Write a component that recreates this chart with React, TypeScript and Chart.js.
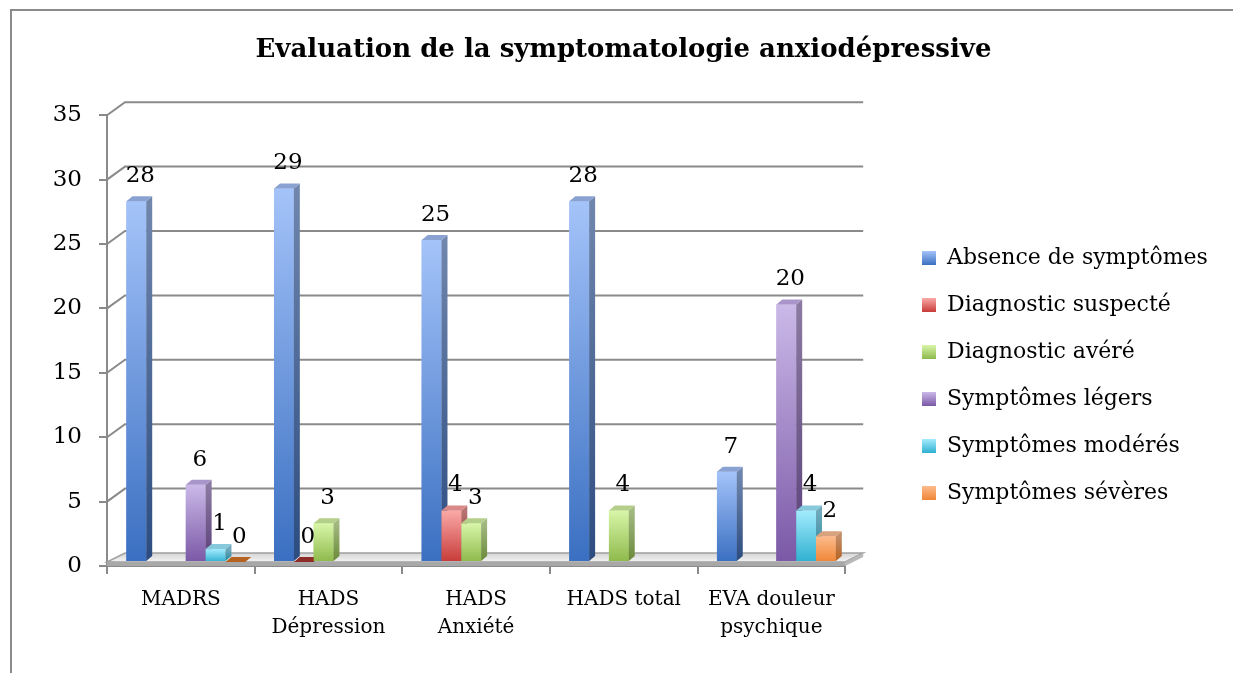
import React, { useEffect, useRef } from "react";
import { Chart, registerables } from "chart.js";

Chart.register(...registerables);

const TITLE = "Evaluation de la symptomatologie anxiodépressive";
const categories: string[][] = [
  ["MADRS"],
  ["HADS", "Dépression"],
  ["HADS", "Anxiété"],
  ["HADS total"],
  ["EVA douleur", "psychique"],
];
const seriesLabels = [
  "Absence de symptômes",
  "Diagnostic suspecté",
  "Diagnostic avéré",
  "Symptômes légers",
  "Symptômes modérés",
  "Symptômes sévères",
];
const absenceSymptomes = [28, 29, 25, 28, 7];
const diagnosticSuspecte = [null, 0, 4, null, null];
const diagnosticAvere = [null, 3, 3, 4, null];
const symptomesLegers = [6, null, null, null, 20];
const symptomesModeres = [1, null, null, null, 4];
const symptomesSeveres = [0, null, null, null, 2];
const seriesValues = [
  absenceSymptomes,
  diagnosticSuspecte,
  diagnosticAvere,
  symptomesLegers,
  symptomesModeres,
  symptomesSeveres,
];
const yMin = 0;
const yMax = 35;
const yStep = 5;

// styles
const lightColors = ["#a4c3f9", "#faa9a7", "#d9f6a9", "#cbb9e8", "#a3ebfd", "#fdbb8c"];
const darkColors = ["#3a6fc1", "#c73b39", "#8db94b", "#7a58a6", "#2fb0d1", "#f08536"];
const sideLight = ["#7086ad", "#b87472", "#a3b982", "#8b7aa1", "#72aabd", "#c28d68"];
const sideDark = ["#2c4c80", "#8e2c2a", "#6a8a38", "#5a3f7a", "#23869e", "#b5611f"];
const topColors = ["#8aa2d2", "#d98a88", "#b4cf8a", "#a995c9", "#86c8dc", "#d9a27e"];

const FONT = "'DejaVu Serif', serif";
const GRID = "#8a8a8a";
const WALL_DX = 18;
const WALL_DY = -13;
const BAR_DX = 6;
const BAR_DY = -5;
const SHIFT_X = 5;
const SHIFT_Y = -4;
const LABEL_DX = 4;
const LABEL_DY = 25;
const LEGEND_FONT = 22;
const LEGEND_BOX = 14;
const LEGEND_LEFT = 889;
const LEGEND_SHIFT_Y = 39;

const threeD = {
  id: "threeD",
  afterLayout(chart: any) {
    const lg = chart.legend;
    if (lg) {
      const dx = LEGEND_LEFT - lg.left;
      lg.left += dx;
      lg.right += dx;
      lg.top += LEGEND_SHIFT_Y;
      lg.bottom += LEGEND_SHIFT_Y;
    }
    const tb = chart.titleBlock;
    if (tb) {
      tb.left = 14;
      tb.right = chart.width;
    }
  },
  beforeDatasetsDraw(chart: any) {
    const { ctx, chartArea: a } = chart;
    const y = chart.scales.y;
    ctx.save();
    ctx.strokeStyle = GRID;
    ctx.lineWidth = 2;
    for (let v = yMin + yStep; v <= yMax; v += yStep) {
      const py = y.getPixelForValue(v);
      ctx.beginPath();
      ctx.moveTo(a.left, py);
      ctx.lineTo(a.left + WALL_DX, py + WALL_DY);
      ctx.lineTo(a.right + WALL_DX, py + WALL_DY);
      ctx.stroke();
    }
    // floor
    const B = y.getPixelForValue(yMin);
    const L = a.left;
    const R = a.right;
    const g = ctx.createLinearGradient(0, B + WALL_DY, 0, B - 4);
    g.addColorStop(0, "#d4d4d4");
    g.addColorStop(1, "#f4f4f4");
    ctx.fillStyle = g;
    ctx.beginPath();
    ctx.moveTo(L, B - 4);
    ctx.lineTo(R, B - 4);
    ctx.lineTo(R + WALL_DX, B + WALL_DY);
    ctx.lineTo(L + WALL_DX, B + WALL_DY);
    ctx.closePath();
    ctx.fill();
    ctx.strokeStyle = "#a0a0a0";
    ctx.lineWidth = 1.5;
    ctx.stroke();
    ctx.fillStyle = "#a8a8a8";
    ctx.fillRect(L, B - 4, R - L, 4);
    ctx.fillStyle = "#b8b8b8";
    ctx.beginPath();
    ctx.moveTo(R, B - 4);
    ctx.lineTo(R + WALL_DX, B + WALL_DY);
    ctx.lineTo(R + WALL_DX, B + WALL_DY + 4);
    ctx.lineTo(R, B);
    ctx.closePath();
    ctx.fill();
    ctx.restore();
    ctx.save();
    ctx.translate(SHIFT_X, SHIFT_Y);
  },
  afterDatasetsDraw(chart: any) {
    const ctx = chart.ctx;
    chart.data.datasets.forEach((ds: any, i: number) => {
      const meta = chart.getDatasetMeta(i);
      if (meta.hidden) return;
      meta.data.forEach((el: any, j: number) => {
        const raw = ds.data[j];
        if (raw == null) return;
        el.draw(ctx);
        const { x, y, base, width } = el.getProps(["x", "y", "base", "width"], true);
        const l = x - width / 2;
        const r = x + width / 2;
        const sg = ctx.createLinearGradient(0, y, 0, base);
        sg.addColorStop(0, sideLight[i]);
        sg.addColorStop(1, sideDark[i]);
        ctx.fillStyle = base - y > 0.5 ? sg : sideDark[i];
        ctx.beginPath();
        ctx.moveTo(r, y);
        ctx.lineTo(r + BAR_DX, y + BAR_DY);
        ctx.lineTo(r + BAR_DX, base + BAR_DY);
        ctx.lineTo(r, base);
        ctx.closePath();
        ctx.fill();
        ctx.fillStyle = base - y > 0.5 ? topColors[i] : sideDark[i];
        ctx.beginPath();
        ctx.moveTo(l, y);
        ctx.lineTo(r, y);
        ctx.lineTo(r + BAR_DX, y + BAR_DY);
        ctx.lineTo(l + BAR_DX, y + BAR_DY);
        ctx.closePath();
        ctx.fill();
      });
    });
    ctx.fillStyle = "#000";
    ctx.font = "23px " + FONT;
    ctx.textAlign = "center";
    ctx.textBaseline = "middle";
    chart.data.datasets.forEach((ds: any, i: number) => {
      const meta = chart.getDatasetMeta(i);
      meta.data.forEach((el: any, j: number) => {
        const raw = ds.data[j];
        if (raw == null) return;
        const { x, y } = el.getProps(["x", "y"], true);
        ctx.fillText(String(raw), x + LABEL_DX, y - LABEL_DY);
      });
    });
    ctx.restore();
  },
  afterDraw(chart: any) {
    const lg = chart.legend;
    if (!lg || !lg.legendHitBoxes) return;
    const ctx = chart.ctx;
    ctx.save();
    lg.legendHitBoxes.forEach((hb: any, k: number) => {
      const item = lg.legendItems[k];
      const i = item.datasetIndex;
      const top = hb.top + Math.max((LEGEND_FONT - LEGEND_BOX) / 2, 0);
      const g = ctx.createLinearGradient(0, top, 0, top + LEGEND_BOX);
      g.addColorStop(0, lightColors[i]);
      g.addColorStop(1, darkColors[i]);
      ctx.fillStyle = g;
      ctx.fillRect(hb.left, top, LEGEND_BOX, LEGEND_BOX);
    });
    ctx.restore();
  },
};

function frontGradient(i: number) {
  return (c: any) => {
    const chart = c.chart;
    const v = c.raw;
    if (!chart.chartArea || v == null || !chart.scales.y) return lightColors[i];
    const ys = chart.scales.y;
    const top = ys.getPixelForValue(v);
    const bot = ys.getPixelForValue(yMin);
    if (Math.abs(bot - top) < 0.5) return darkColors[i];
    const g = chart.ctx.createLinearGradient(0, top, 0, bot);
    g.addColorStop(0, lightColors[i]);
    g.addColorStop(1, darkColors[i]);
    return g;
  };
}

export default function App() {
  const ref = useRef<HTMLCanvasElement>(null);
  useEffect(() => {
    if (!ref.current) return;
    const chart = new Chart(ref.current, {
      type: "bar",
      data: {
        labels: categories,
        datasets: seriesLabels.map((label, i) => ({
          label,
          data: seriesValues[i],
          backgroundColor: frontGradient(i),
          borderWidth: 0,
          categoryPercentage: 0.805,
          barPercentage: 1.0,
        })),
      },
      options: {
        animation: false,
        responsive: true,
        maintainAspectRatio: false,
        layout: { padding: { left: 0, right: 59, top: 0, bottom: 0 } },
        plugins: {
          title: {
            display: true,
            text: TITLE,
            color: "#000",
            font: { family: FONT, size: 26, weight: "bold" },
            padding: { top: 27, bottom: 49 },
          },
          legend: {
            position: "right",
            maxWidth: 400,
            labels: {
              color: "#000",
              font: { family: FONT, size: LEGEND_FONT },
              boxWidth: LEGEND_BOX,
              boxHeight: LEGEND_BOX,
              padding: 25,
            },
          },
          tooltip: { enabled: false },
        },
        scales: {
          x: {
            grid: {
              display: true,
              drawOnChartArea: false,
              drawTicks: true,
              tickLength: 8,
              color: GRID,
              lineWidth: 2,
              offset: true,
            },
            border: { display: true, color: GRID, width: 2 },
            ticks: {
              color: "#000",
              font: { family: FONT, size: 20, lineHeight: 1.4 },
              padding: 12,
              maxRotation: 0,
              autoSkip: false,
            },
            afterFit: (s: any) => {
              s.height = 99;
            },
          },
          y: {
            min: yMin,
            max: yMax,
            grid: {
              display: true,
              drawOnChartArea: false,
              drawTicks: true,
              tickLength: 8,
              color: GRID,
              lineWidth: 2,
            },
            border: { display: true, color: GRID, width: 2 },
            ticks: {
              stepSize: yStep,
              color: "#000",
              font: { family: FONT, size: 23 },
              padding: 17,
            },
            afterFit: (s: any) => {
              s.width = 99;
            },
          },
        },
      },
      plugins: [threeD],
    } as any);
    return () => chart.destroy();
  }, []);
  return (
    <>
      <div
        style={{
          position: "fixed",
          left: 10,
          top: 9,
          right: 0,
          bottom: 0,
          borderTop: "2px solid #8a8a8a",
          borderLeft: "2px solid #8a8a8a",
          pointerEvents: "none",
        }}
      />
      <div style={{ width: 1217, height: 657, position: "relative" }}>
        <canvas ref={ref} />
      </div>
    </>
  );
}
